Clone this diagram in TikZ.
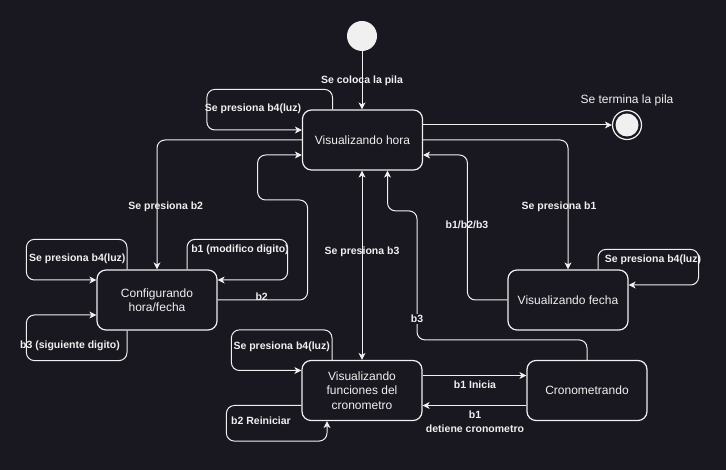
\documentclass[tikz,border=0pt]{standalone}
\usepackage{fontspec}
\setmainfont{Liberation Sans}
\usepackage{tikz}
\usetikzlibrary{arrows.meta,positioning}
\definecolor{fondo}{RGB}{25,23,31}
\definecolor{trazo}{RGB}{240,240,240}
\tikzset{font=\fontsize{12}{14.5}\selectfont}
\tikzset{estado/.style={draw=trazo,line width=1.2pt,rounded corners=9pt,fill=fondo,
    text=trazo,minimum width=120pt,minimum height=60pt,align=center,inner sep=2pt}}
\tikzset{etiq/.style={text=trazo,font=\fontsize{10.5}{13.5}\selectfont\bfseries,
    align=center,inner sep=1pt}}
\tikzset{trans/.style={draw=trazo,line width=1pt,rounded corners=8pt,
    >={Stealth[length=7pt,width=7pt,inset=2pt]},->}}

\begin{document}
\begin{tikzpicture}[x=1pt,y=1pt]
  \useasboundingbox (0,0) rectangle (726,470);
  \fill[fondo] (0,0) rectangle (726,470);
  % estados
  \node[circle,fill=trazo,minimum size=30pt,inner sep=0pt] (inicio) at (362,434) {};
  \node[circle,draw=trazo,line width=1.2pt,minimum size=29pt,inner sep=0pt] (fin) at (627,345) {};
  \fill[trazo] (fin.center) circle (11.5pt);
  \node[estado] (hora) at (362.5,330) {Visualizando hora};
  \node[estado] (config) at (157,170) {Configurando\\hora/fecha};
  \node[estado] (fecha) at (568,170) {Visualizando fecha};
  \node[estado] (func) at (362,79.5) {Visualizando\\funciones del\\cronometro};
  \node[estado] (crono) at (587,79.5) {Cronometrando};
  % transiciones
  \draw[trans] (inicio) -- (inicio |- hora.north) node[etiq,midway] (lpila) {Se coloca la pila};
  \draw[trans] (hora.east |- fin) -- (fin);
  \node[text=trazo,inner sep=1pt,above=3pt of fin] (lfin) {Se termina la pila};
  \draw[trans] ([xshift=-30pt]hora.north) -- ++(0,20) -| ([xshift=-95pt,yshift=10pt]hora.west) -- ([yshift=10pt]hora.west);
  \node[etiq] (lluzh) at (253,361) {Se presiona b4(luz)};
  \draw[trans] (hora.west) -| (config.north);
  \node[etiq] (lb2) at (165.7,263) {Se presiona b2};
  \draw[trans] (config.east) -- ++(90,0) -- ++(0,100) -- ++(-50,0) |- ([yshift=-15pt]hora.west);
  \node[etiq] (lvuelta) at (261.7,173.3) {b2};
  \draw[trans] ([xshift=30pt]config.north) -- ++(0,30) -| ([xshift=70pt,yshift=20pt]config.east) -- ([yshift=20pt]config.east);
  \node[etiq] (lmod) at (240,220) {b1 (modifico digito)};
  \draw[trans] ([xshift=-30pt]config.north) -- ++(0,30) -| ([xshift=-70pt,yshift=20pt]config.west) -- ([yshift=20pt]config.west);
  \node[etiq] (lluzc) at (77.3,211.3) {Se presiona b4(luz)};
  \draw[trans] ([xshift=-30pt]config.south) -- ++(0,-30) -| ([xshift=-70pt,yshift=-15pt]config.west) -- ([yshift=-15pt]config.west);
  \node[etiq] (lsig) at (70,124.3) {b3 (siguiente digito)};
  \draw[trans] (hora.east) -| (fecha.north);
  \node[etiq] (lb1) at (559,263) {Se presiona b1};
  \draw[trans] (fecha.west) -- ++(-40,0) |- ([yshift=-15pt]hora.east);
  \node[etiq] (lbotones) at (467,245) {b1/b2/b3};
  \draw[trans] ([xshift=30pt]fecha.north) -- ++(0,20) -| ([xshift=70pt,yshift=15pt]fecha.east) -- ([yshift=15pt]fecha.east);
  \node[etiq] (lluzf) at (653,210) {Se presiona b4(luz)};
  \draw[trans,<->] (func.north) -- (func.north |- hora.south) node[etiq,pos=0.57] (lb3) {Se presiona b3};
  \draw[trans] (crono.north) -- ++(0,20) -| ++(-170,129) -| ([xshift=25pt]hora.south);
  \node[etiq,fill=fondo] (lregreso) at (417,151) {b3};
  \draw[trans] ([yshift=15pt]func.east) -- ([yshift=15pt]crono.west);
  \node[etiq] (linicia) at (475,85) {b1 Inicia};
  \draw[trans] ([yshift=-15pt]crono.west) -- ([yshift=-15pt]func.east);
  \node[etiq] (ldetiene) at (475,48) {b1\\detiene cronometro};
  \draw[trans] ([xshift=-30pt]func.north) -- ++(0,30) -| ([xshift=-70pt,yshift=20pt]func.west) -- ([yshift=20pt]func.west);
  \node[etiq] (lluzcr) at (281.7,123) {Se presiona b4(luz)};
  \draw[trans] ([yshift=-15pt]func.west) -- ++(-75,0) |- ([xshift=-35pt,yshift=-20pt]func.south) -- ([xshift=-35pt]func.south);
  \node[etiq] (lreinicio) at (261,49.7) {b2 Reiniciar};
\end{tikzpicture}
\end{document}
